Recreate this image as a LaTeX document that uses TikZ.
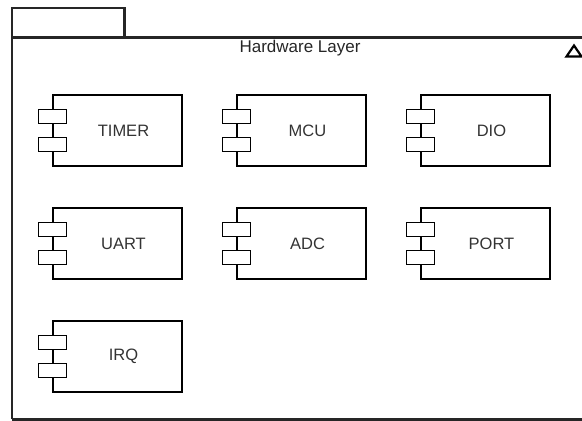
\documentclass[tikz,border=0pt]{standalone}
\usepackage{fontspec}
\setmainfont{Liberation Sans}
\usepackage{tikz}
\usetikzlibrary{positioning}

\tikzset{
    frame/.style={draw=black!85, line width=2.5pt},
    comp/.style={draw, line width=1.2pt, minimum width=129pt, minimum height=71pt, inner sep=0pt},
    lbl/.style={text=black!80, font=\fontsize{16.5}{19}\selectfont, xshift=6pt},
    pin/.style={draw, line width=1.2pt, fill=white}
}

\begin{document}
\begin{tikzpicture}[x=1pt,y=1pt]
        \clip (0,0) rectangle (582,-421);
        % package frame
        \draw[frame] (12,-8) rectangle (124.7,-37.3);
        \draw[frame] (12,-419.3) -- (12,-37.3) -- (600,-37.3);
        \draw[frame] (12,-419.3) -- (600,-419.3);
        \node[text=black!85, font=\fontsize{17}{20}\selectfont] (layer) at (300,-48.5) {Hardware Layer};
        \draw[line width=2.2pt, line join=miter] (566.5,-56.5) -- (574,-45.5) -- (581.5,-56.5) -- cycle;
        % components
        \node[comp, label={[lbl]center:TIMER}] (timer) at (117.5,-130.5) {};
        \node[comp, label={[lbl]center:MCU}] (mcu) at (301.5,-130.5) {};
        \node[comp, label={[lbl]center:DIO}] (dio) at (485.5,-130.5) {};
        \node[comp, label={[lbl]center:UART}] (uart) at (117.5,-243.5) {};
        \node[comp, label={[lbl]center:ADC}] (adc) at (301.5,-243.5) {};
        \node[comp, label={[lbl]center:PORT}] (port) at (485.5,-243.5) {};
        \node[comp, label={[lbl]center:IRQ}] (irq) at (117.5,-356.5) {};
        \foreach \c in {timer,mcu,dio,uart,adc,port,irq} {
            \draw[pin] ([xshift=-14pt,yshift=-15pt]\c.north west) rectangle ++(28,-14);
            \draw[pin] ([xshift=-14pt,yshift=-43pt]\c.north west) rectangle ++(28,-14);
        }
    \end{tikzpicture}
\end{document}
